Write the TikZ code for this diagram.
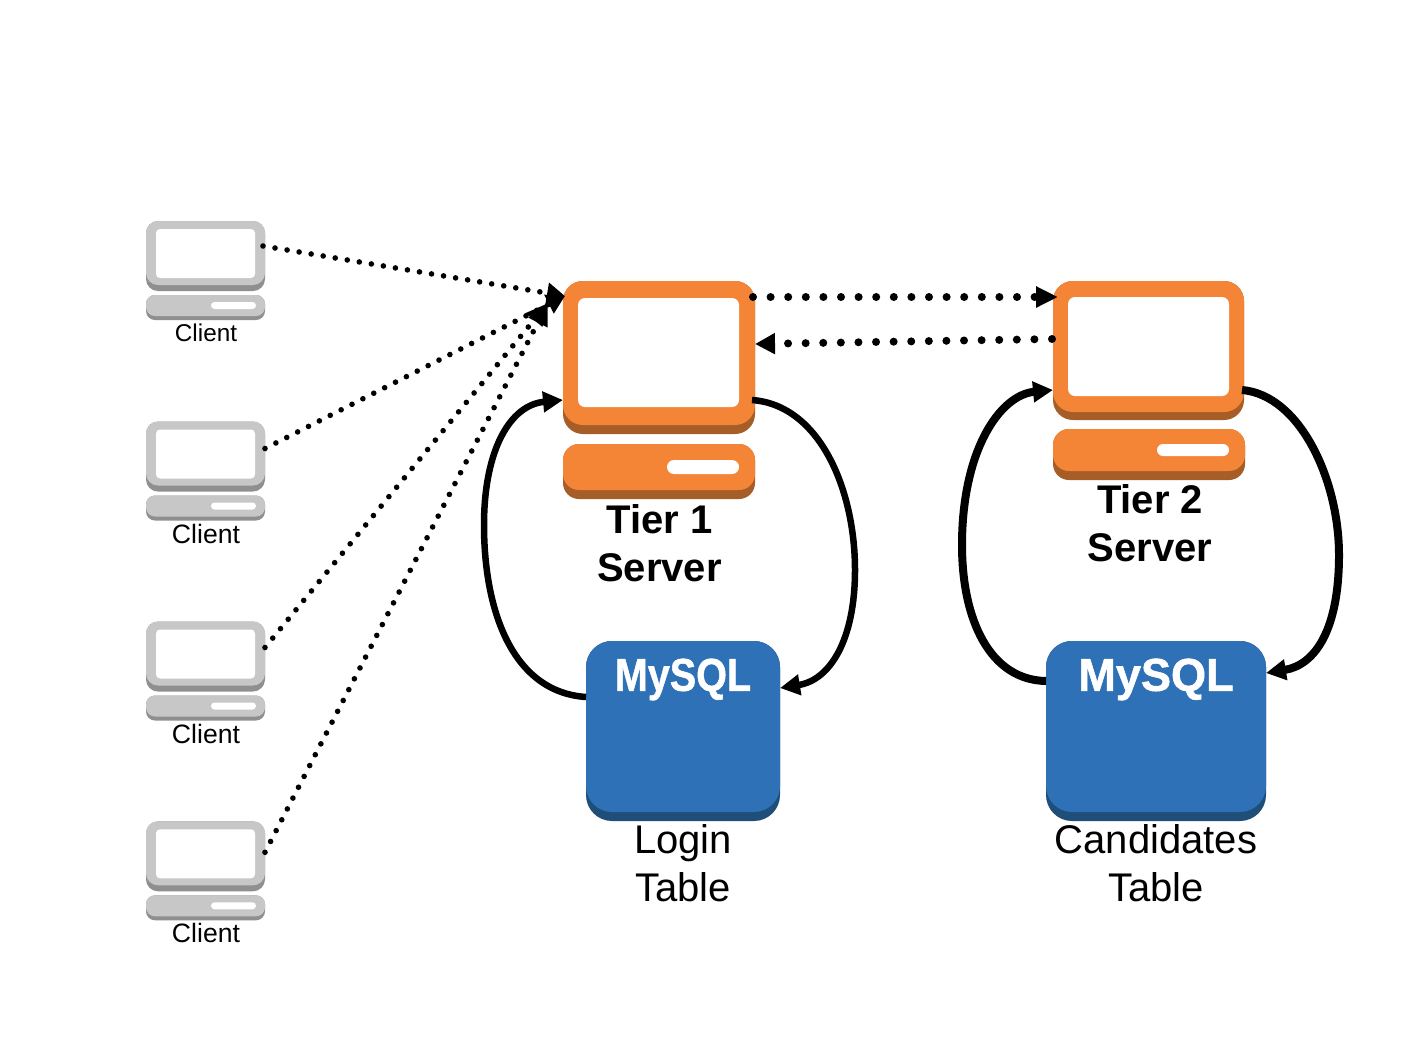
\documentclass[tikz,border=0pt]{standalone}
\usepackage{fontspec}
\setmainfont{Liberation Sans}
\newfontfamily\msqfont[UprightFont=* Bold,UprightFeatures={FakeBold=1.2}]{Liberation Sans}
\usetikzlibrary{arrows.meta}
\definecolor{org}{HTML}{F58536}
\definecolor{orgd}{HTML}{A65D27}
\definecolor{gry}{HTML}{C7C7C7}
\definecolor{gryd}{HTML}{8F8F8F}
\definecolor{blu}{HTML}{2E71B6}
\definecolor{blud}{HTML}{1F4E79}
\tikzset{
  part/.style={draw=none,inner sep=0pt,outer sep=0pt,rectangle},
  lab/.style={inner sep=0pt,align=center,text=black,font=\fontsize{40}{48}\selectfont},
  labb/.style={inner sep=0pt,align=center,text=black,font=\fontsize{40}{48}\selectfont\bfseries},
  clab/.style={inner sep=0pt,text=black},
  msq/.style={inner sep=0pt,text=white,font=\fontsize{46}{46}\msqfont},
  dotline/.style={line cap=round,line width=5.6pt,dash pattern=on 0pt off 12.2pt},
  dotthick/.style={line cap=round,line width=8pt,dash pattern=on 0pt off 17.6pt},
  loopline/.style={line width=6.5pt},
  loopthick/.style={line width=8pt},
  tipa/.style={-{Triangle[length=18pt,width=20pt]}},
  tipb/.style={-{Triangle[length=22pt,width=20pt]}},
  tiploop/.style={-{Triangle[length=20pt,width=20pt]}},
}
% name, x1, y1, x2, y2, colour, radius
\newcommand{\rbox}[7]{%
  \pgfmathsetmacro{\cxx}{((#2)+(#4))/2}%
  \pgfmathsetmacro{\cyy}{((#3)+(#5))/2}%
  \pgfmathsetmacro{\wdd}{(#4)-(#2)}%
  \pgfmathsetmacro{\htt}{(#5)-(#3)}%
  \node[part,fill=#6,rounded corners=#7pt,minimum width=\wdd pt,minimum height=\htt pt] (#1) at (\cxx,\cyy) {};%
}
% client: name, y offset, label, font size
\newcommand{\clientbox}[4]{%
  \rbox{#1shm}{146}{221+#2}{265}{291+#2}{gryd}{12}
  \rbox{#1}{146}{221+#2}{265}{285+#2}{gry}{12}
  \rbox{#1scr}{156}{229+#2}{255}{278+#2}{white}{4}
  \rbox{#1shb}{146}{295+#2}{265}{320+#2}{gryd}{9}
  \rbox{#1base}{146}{295+#2}{265}{316+#2}{gry}{9}
  \rbox{#1slot}{211}{302+#2}{256}{309+#2}{white}{3.5}
  \node[clab,font=\fontsize{#4}{#4}\selectfont] (#1lab) at (206,333+#2) {#3};
}
\begin{document}
\begin{tikzpicture}[x=1pt,y=-1pt]
\useasboundingbox (0,0) rectangle (1426,1061);
\fill[white] (0,0) rectangle (1426,1061);

\clientbox{ca}{0}{Client}{24.3}
\clientbox{cb}{200.5}{Client}{26.6}
\clientbox{cc}{400.5}{Client}{26.6}
\clientbox{cd}{600.3}{Client}{26.6}

% Tier 1
\rbox{tashm}{563}{281}{755}{434}{orgd}{20}
\rbox{ta}{563}{281}{755}{425}{org}{20}
\rbox{tascr}{578}{298}{739}{407}{white}{7}
\rbox{tashb}{563}{444}{755}{499}{orgd}{16}
\rbox{tabase}{563}{444}{755}{490}{org}{16}
\rbox{taslot}{667}{460}{739}{474}{white}{7}
\node[labb] (talab) at (659.5,543) {Tier 1\\Server};

% Tier 2
\rbox{tbshm}{1053}{281}{1244}{420}{orgd}{20}
\rbox{tb}{1053}{281}{1244}{412}{org}{20}
\rbox{tbscr}{1068}{297}{1229}{396}{white}{7}
\rbox{tbshb}{1053}{429}{1245}{480}{orgd}{16}
\rbox{tbbase}{1053}{429}{1245}{471}{org}{16}
\rbox{tbslot}{1157}{444}{1229}{456}{white}{6}
\node[labb] (tblab) at (1150,523) {Tier 2\\Server};

% MySQL 1
\rbox{dashd}{586}{641}{780}{821}{blud}{26}
\rbox{da}{586}{641}{780}{812}{blu}{26}
\node[msq,xscale=.86] (datxt) at (683,679.5) {MySQL};
\node[lab] (dalab) at (683,863) {Login\\Table};

% MySQL 2
\rbox{dbshd}{1046}{641}{1266}{821}{blud}{26}
\rbox{db}{1046}{641}{1266}{812}{blu}{26}
\node[msq,xscale=.98] (dbtxt) at (1156,679.5) {MySQL};
\node[lab] (dblab) at (1156,863) {Candidates\\Table};

% client connectors
\draw[dotline,tipa] ([yshift=7pt,xshift=-2pt]ca.east) -- ([xshift=2pt,yshift=57pt]ta.west);
\draw[dotline,tipa] ([yshift=5pt]cb.east) -- ([xshift=2pt,yshift=57pt]ta.west);
\draw[dotline,tipb] ([yshift=6pt]cc.east) -- ([xshift=-15pt,yshift=50pt]ta.west);
\draw[dotline,tipb] ([yshift=1pt]cd.east) -- ([xshift=-15pt,yshift=50pt]ta.west);

% tier connectors
\draw[dotthick,tipb] ([xshift=-2pt,yshift=56pt]ta.east) -- ([xshift=5pt,yshift=49.5pt]tb.west);
\draw[dotthick,tiploop] ([xshift=-1pt,yshift=7.5pt]tb.west) -- ([yshift=9pt]ta.east);

% loops
\draw[loopline,tiploop] ([yshift=29.5pt]da.west) .. controls (512,692) and (484,610) .. (484,525)
   .. controls (484,450) and (510,405) .. ([yshift=-47pt]ta.west);
\draw[loopline,tiploop] ([xshift=-3pt,yshift=-47pt]ta.east) .. controls (820,405) and (855,490) .. (855,570)
   .. controls (855,640) and (830,680) .. ([yshift=38.5pt]da.east);
\draw[loopthick,tiploop] ([yshift=45.5pt]db.west) .. controls (990,680) and (962,620) .. (962,545)
   .. controls (962,450) and (1000,395) .. ([yshift=-43.5pt]tb.west);
\draw[loopthick,tiploop] ([xshift=-2pt,yshift=-43.5pt]tb.east) .. controls (1300,395) and (1339,480) .. (1339,555)
   .. controls (1339,630) and (1315,665) .. ([yshift=53.5pt]db.east);
\end{tikzpicture}
\end{document}
